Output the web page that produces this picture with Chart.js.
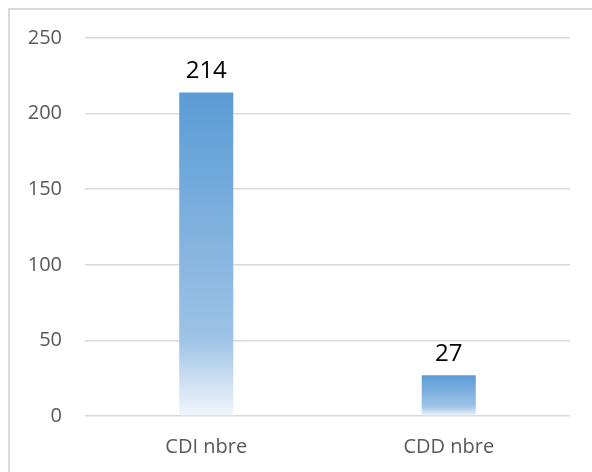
<!DOCTYPE html>
<html>
<head>
<meta charset="utf-8">
<script src="https://cdn.jsdelivr.net/npm/chart.js@4.4.0/dist/chart.umd.min.js"></script>
<style>
  html, body { margin: 0; padding: 0; background: #fff; overflow: hidden; }
  #wrap { position: relative; width: 592px; height: 472px; }
  #cadre { position: absolute; left: 8px; top: 8px; width: 620px; height: 500px; border: 2px solid #d9d9d9; box-sizing: border-box; }
  canvas { position: absolute; left: 0; top: 0; }
</style>
</head>
<body>
<div id="wrap">
  <div id="cadre"></div>
  <canvas id="graphique" width="592" height="472"></canvas>
</div>
<script>
// données
const categories = ["CDI nbre", "CDD nbre"];
const valeurs = [214, 27];
const ticksY = [0, 50, 100, 150, 200, 250];

// dégradé par barre (haut bleu -> bas presque blanc)
function degrade(ctx) {
  const chart = ctx.chart;
  const y = chart.scales.y;
  if (!y || ctx.dataIndex === undefined) return "#5B9BD5";
  const haut = y.getPixelForValue(valeurs[ctx.dataIndex]);
  const bas = y.getPixelForValue(0);
  if (!isFinite(haut) || !isFinite(bas) || haut === bas) return "#5B9BD5";
  const g = chart.ctx.createLinearGradient(0, haut, 0, bas);
  g.addColorStop(0, "#5B9BD5");
  g.addColorStop(0.76, "#9DC3E6");
  g.addColorStop(1, "#F2F6FB");
  return g;
}

const etiquettes = {
  id: "etiquettes",
  afterDatasetsDraw(chart) {
    const c = chart.ctx;
    const meta = chart.getDatasetMeta(0);
    c.save();
    c.font = "24px 'Open Sans'";
    c.fillStyle = "#000";
    c.textAlign = "center";
    c.textBaseline = "alphabetic";
    meta.data.forEach((barre, i) => {
      c.fillText(String(valeurs[i]), barre.x, barre.y - 14);
    });
    c.restore();
  }
};

new Chart(document.getElementById("graphique"), {
  type: "bar",
  data: {
    labels: categories,
    datasets: [{
      data: valeurs,
      backgroundColor: degrade,
      borderWidth: 0,
      categoryPercentage: 1,
      barPercentage: 0.223
    }]
  },
  options: {
    responsive: false,
    animation: false,
    events: [],
    layout: { padding: { left: 0, right: 22, top: 38, bottom: 0 } },
    plugins: { legend: { display: false }, tooltip: { enabled: false } },
    scales: {
      x: {
        grid: { display: false, drawTicks: false },
        border: { display: false },
        ticks: { color: "#595959", font: { family: "'Open Sans'", size: 20 }, padding: 19 },
        afterFit(s) { s.height = 56; }
      },
      y: {
        min: 0,
        max: 250,
        afterBuildTicks(s) { s.ticks = ticksY.map(v => ({ value: v })); },
        grid: { color: "#d9d9d9", lineWidth: 1.5, drawTicks: false },
        border: { display: false },
        ticks: { color: "#595959", font: { family: "'Open Sans'", size: 20 }, padding: 23 },
        afterFit(s) { s.width = 85; }
      }
    }
  },
  plugins: [etiquettes]
});
</script>
</body>
</html>
